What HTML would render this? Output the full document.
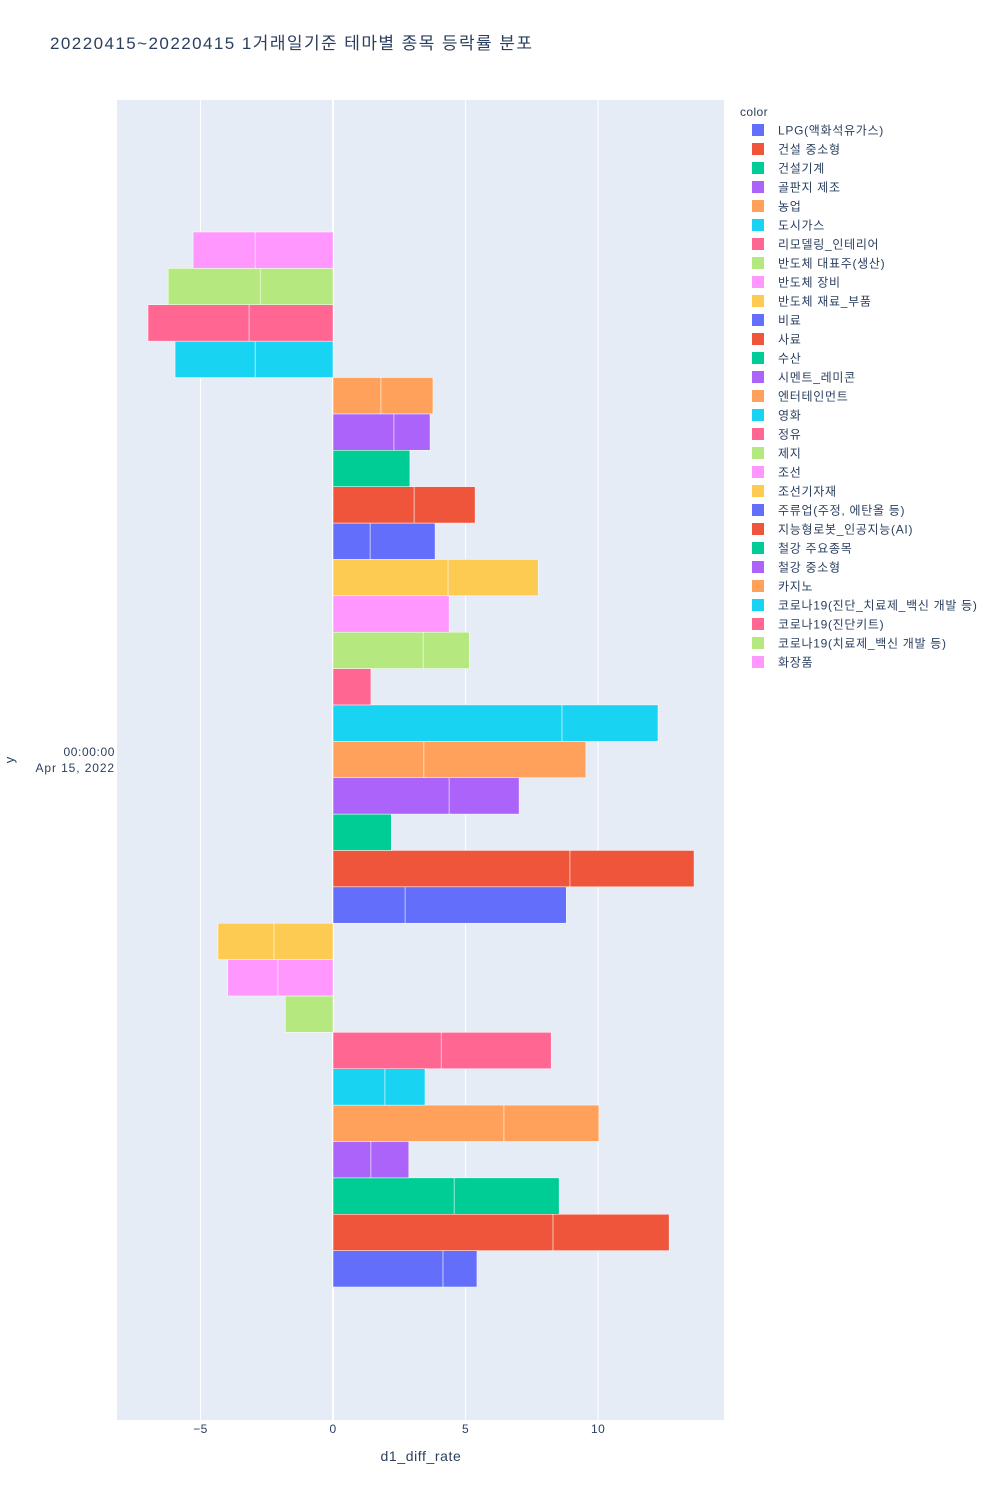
<!DOCTYPE html>
<html><head><meta charset="utf-8"><style>
body{margin:0;background:#fff;font-family:"Liberation Sans","Noto Sans CJK KR",sans-serif;}
svg text{font-family:"Liberation Sans","Noto Sans CJK KR",sans-serif;}
</style></head><body>
<svg id="c" width="1000" height="1500" xmlns="http://www.w3.org/2000/svg">
<text x="50" y="49" font-size="17" fill="#2a3f5f" textLength="482" lengthAdjust="spacing">20220415~20220415 1거래일기준 테마별 종목 등락률 분포</text>
<rect x="117" y="100" width="607" height="1320" fill="#e5ecf6"/>
<g id="grid"></g><g id="bars"></g><g id="xt"></g><g id="leg"></g>
<text x="115" y="756" font-size="12" fill="#2a3f5f" text-anchor="end" letter-spacing="0.6">00:00:00</text>
<text x="115" y="772" font-size="12" fill="#2a3f5f" text-anchor="end" letter-spacing="0.9">Apr 15, 2022</text>
<text x="14" y="760" font-size="13" fill="#2a3f5f" text-anchor="middle" transform="rotate(-90 14 760)">y</text>
<text x="421" y="1461" font-size="14" fill="#2a3f5f" text-anchor="middle" letter-spacing="0.6">d1_diff_rate</text>
<text x="740" y="116" font-size="12" fill="#2a3f5f" letter-spacing="0.4">color</text>
</svg>
<script>
const categories=["LPG(액화석유가스)","건설 중소형","건설기계","골판지 제조","농업","도시가스","리모델링_인테리어","반도체 대표주(생산)","반도체 장비","반도체 재료_부품","비료","사료","수산","시멘트_레미콘","엔터테인먼트","영화","정유","제지","조선","조선기자재","주류업(주정, 에탄올 등)","지능형로봇_인공지능(AI)","철강 주요종목","철강 중소형","카지노","코로나19(진단_치료제_백신 개발 등)","코로나19(진단키트)","코로나19(치료제_백신 개발 등)","화장품"];
const stock1=[4.15,8.3,4.57,1.43,6.45,1.96,4.08,-1.8,-2.08,-2.23,2.72,8.94,2.2,4.38,3.43,8.64,1.43,3.4,4.38,4.34,1.4,3.06,2.9,2.3,1.81,-2.94,-3.17,-2.75,-2.94];
const stock2=[1.28,4.38,3.96,1.43,3.58,1.51,4.15,0,-1.89,-2.11,6.08,4.68,0,2.64,6.11,3.62,0,1.74,0,3.4,2.45,2.3,0,1.36,1.96,-3.02,-3.81,-3.47,-2.34];
const xTicks=[-5,0,5,10];
const colors=["#636efa","#EF553B","#00cc96","#ab63fa","#FFA15A","#19d3f3","#FF6692","#B6E880","#FF97FF","#FECB52"];
const NS="http://www.w3.org/2000/svg";
const x0=117,x1=724,xmin=-8.15,xmax=14.75;
const X=v=>x0+(v-xmin)/(xmax-xmin)*(x1-x0);
const yTop=232,yBot=1287,n=categories.length,bh=(yBot-yTop)/n;
const Y=i=>yBot-(i+1)*bh;
function mk(t,a,p){const e=document.createElementNS(NS,t);for(const k in a)e.setAttribute(k,a[k]);document.getElementById(p).appendChild(e);return e;}
xTicks.forEach(t=>{
 const l=mk('line',{x1:X(t),x2:X(t),y1:100,y2:1420,stroke:'#fff','stroke-width':t===0?2:1},'grid');
 
 
 const tx=mk('text',{x:X(t),y:1433,'font-size':12,fill:'#2a3f5f','text-anchor':'middle','letter-spacing':0.4},'xt');
 tx.textContent=t<0?'−'+Math.abs(t):t;
 
 
});
categories.forEach((c,i)=>{
 const col=colors[i%10];const y=Y(i);
 [[0,stock1[i]],[stock1[i],stock1[i]+stock2[i]]].forEach((s,j)=>{
  if(s[0]===s[1])return;
  const a=Math.min(X(s[0]),X(s[1])),b=Math.max(X(s[0]),X(s[1]));
  const r=mk('rect',{x:a,y:y,width:b-a,height:bh,fill:col,stroke:'#fff','stroke-width':0.5},'bars');
  
  
 });
 const ly=130+i*19;
 const sw=mk('rect',{x:752,y:ly-6,width:12,height:12,fill:col},'leg');
 
 
 const lt=mk('text',{x:778,y:ly+4.5,'font-size':12,fill:'#2a3f5f','letter-spacing':0.7},'leg');
 lt.textContent=c;
 
 
});
</script>
</body></html>
